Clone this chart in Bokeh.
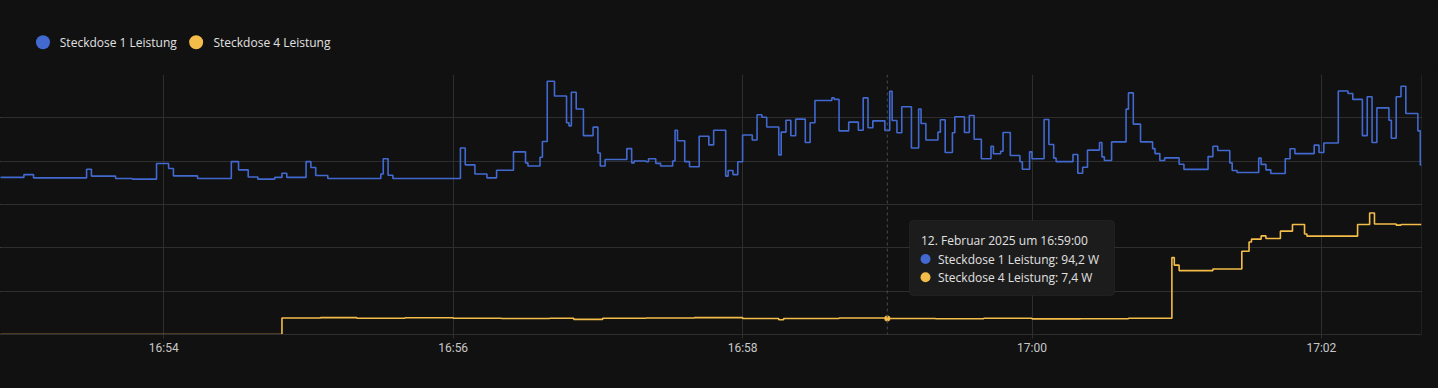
import pandas as pd
from bokeh.plotting import figure
from bokeh.layouts import column
from bokeh.models import (Range1d, FixedTicker, SingleIntervalTicker, Grid, Span,
                          BoxAnnotation, Label, DatetimeTickFormatter, GlobalInlineStyleSheet)
from bokeh.embed import file_html
from bokeh.resources import INLINE

# ---------------- data ----------------
DAY = "2025-02-12"
series_names = ["Steckdose 1 Leistung", "Steckdose 4 Leistung"]
unit = "W"

s1_time = ["16:52:52","16:53:02","16:53:06","16:53:28","16:53:30","16:53:40","16:53:47","16:53:57",
           "16:54:02","16:54:04","16:54:14","16:54:28","16:54:31","16:54:35","16:54:39","16:54:46",
           "16:54:49","16:54:51","16:54:59","16:55:01","16:55:03","16:55:08","16:55:30","16:55:31",
           "16:55:33","16:55:35","16:56:03","16:56:05","16:56:09","16:56:14","16:56:18","16:56:25",
           "16:56:30","16:56:31","16:56:36","16:56:37","16:56:39","16:56:42","16:56:47","16:56:48",
           "16:56:49","16:56:51","16:56:54","16:56:58","16:57:00","16:57:01","16:57:03","16:57:12",
           "16:57:14","16:57:15","16:57:20","16:57:21","16:57:24","16:57:26","16:57:31","16:57:32",
           "16:57:33","16:57:36","16:57:38","16:57:42","16:57:46","16:57:48","16:57:53","16:57:54",
           "16:57:56","16:57:58","16:58:00","16:58:04","16:58:06","16:58:08","16:58:10","16:58:15",
           "16:58:16","16:58:18","16:58:20","16:58:22","16:58:26","16:58:28","16:58:30","16:58:37",
           "16:58:38","16:58:40","16:58:44","16:58:48","16:58:50","16:58:52","16:58:54","16:58:59",
           "16:59:01","16:59:02","16:59:04","16:59:06","16:59:10","16:59:13","16:59:14","16:59:16",
           "16:59:21","16:59:22","16:59:24","16:59:27","16:59:28","16:59:32","16:59:34","16:59:36",
           "16:59:39","16:59:43","16:59:44","16:59:47","16:59:48","16:59:51","16:59:55","16:59:56",
           "16:59:59","17:00:00","17:00:05","17:00:07","17:00:09","17:00:10","17:00:17","17:00:19",
           "17:00:21","17:00:23","17:00:28","17:00:29","17:00:30","17:00:33","17:00:39","17:00:40",
           "17:00:42","17:00:45","17:00:50","17:00:51","17:00:53","17:00:55","17:01:01","17:01:03",
           "17:01:13","17:01:15","17:01:17","17:01:22","17:01:23","17:01:25","17:01:34","17:01:35",
           "17:01:37","17:01:39","17:01:45","17:01:47","17:01:49","17:01:57","17:01:59","17:02:01",
           "17:02:07","17:02:11","17:02:13","17:02:17","17:02:19","17:02:21","17:02:23","17:02:28",
           "17:02:29","17:02:31","17:02:33","17:02:35","17:02:40","17:02:41","17:02:42"]
s1_watt = [72.5, 73.8, 72.3, 76.3, 73.1, 72.0, 71.7, 78.9,
           76.6, 73.2, 72.0, 79.8, 76.0, 72.7, 71.7, 72.5,
           74.4, 72.5, 79.8, 77.1, 73.4, 72.0, 74.1, 81.1,
           73.5, 72.0, 86.1, 78.3, 74.1, 72.3, 75.8, 84.3,
           79.2, 77.8, 81.8, 89.1, 116.9, 110.1, 97.7, 96.3,
           111.8, 104.1, 91.8, 95.7, 83.8, 77.8, 80.8, 85.8,
           79.2, 80.1, 79.7, 81.1, 79.0, 77.8, 80.1, 94.3,
           89.4, 79.8, 77.4, 91.5, 87.5, 94.3, 73.1, 75.7,
           73.8, 79.7, 92.1, 89.8, 101.4, 100.3, 95.8, 82.9,
           93.4, 98.9, 91.7, 99.4, 88.6, 97.7, 108.0, 109.2,
           108.5, 94.0, 98.0, 94.3, 109.2, 95.4, 98.6, 94.2,
           112.3, 98.8, 93.1, 105.1, 86.1, 104.1, 97.4, 89.8,
           93.4, 99.1, 84.0, 93.1, 100.5, 93.2, 101.1, 90.1,
           81.1, 86.9, 83.4, 84.6, 93.2, 82.6, 79.7, 76.3,
           84.3, 81.1, 99.2, 87.7, 81.4, 79.8, 83.1, 74.4,
           77.2, 85.1, 88.6, 82.0, 80.3, 88.9, 104.0, 111.5,
           97.1, 88.9, 85.8, 83.5, 80.3, 81.5, 78.6, 76.2,
           82.1, 86.9, 84.9, 79.2, 75.7, 74.8, 81.4, 78.5,
           76.0, 74.3, 81.1, 85.7, 83.5, 87.4, 84.0, 88.4,
           112.4, 111.2, 108.5, 91.8, 109.7, 88.6, 104.6, 98.9,
           90.6, 109.7, 114.6, 102.0, 94.0, 78.3, 78.3]

s4_time = ["16:52:50","16:54:49","16:55:05","16:55:20","16:55:40","16:56:00","16:56:20","16:56:40",
           "16:56:50","16:57:02","16:57:20","16:57:40","16:58:00","16:58:15","16:58:17","16:58:40",
           "16:59:00","16:59:20","16:59:40","17:00:00","17:00:20","17:00:40","17:00:58","17:00:59",
           "17:01:01","17:01:15","17:01:27","17:01:30","17:01:31","17:01:35","17:01:37","17:01:43",
           "17:01:48","17:01:53","17:01:54","17:02:15","17:02:20","17:02:22","17:02:31","17:02:33",
           "17:02:42"]
s4_watt = [0.0, 7.6, 7.8, 7.5, 7.7, 7.5, 7.4, 7.5,
           7.0, 7.5, 7.6, 7.8, 7.4, 6.8, 7.4, 7.6,
           7.4, 7.3, 7.5, 7.2, 7.3, 7.5, 35.5, 32.0,
           29.5, 30.2, 38.4, 42.7, 44.0, 45.5, 44.3, 47.7,
           50.8, 46.4, 45.4, 50.8, 56.1, 51.0, 50.5, 50.8,
           50.8]

tick_times = ["16:54", "16:56", "16:58", "17:00", "17:02"]
hover_time = "16:59:00"
view_start, view_end = "16:52:52.3", "17:02:41.5"
y_max, y_step = 120, 20

assert len(s1_time) == len(s1_watt) and len(s4_time) == len(s4_watt)

# ---------------- helpers ----------------
def ms(t):
    return pd.Timestamp(f"{DAY} {t}").value / 1e6

def value_at(times, vals, t):
    v = vals[0]
    for tt, vv in zip(times, vals):
        if ms(tt) <= ms(t):
            v = vv
    return v

def de(v):
    return f"{v:.1f}".replace(".", ",")

BG = "#111111"
GRID = "#2e2e2e"
BLUE = "#4269d0"
YELLOW = "#f4bd4a"
TXT = "#e1e1e1"

W = 1438
LEG_H = 68
FRAME_W, FRAME_H = 1421, 260
TOP, BOTTOM, RIGHT = 6, 50, 17

x0, x1 = ms(view_start), ms(view_end)

# page pixel -> data (for annotations only)
FRAME_LEFT_PAGE = 0
FRAME_TOP_PAGE = LEG_H + TOP
def X(px):
    return x0 + (px - FRAME_LEFT_PAGE) * (x1 - x0) / FRAME_W
def Y(py):
    return y_max - (py - FRAME_TOP_PAGE) * y_max / FRAME_H

# ---------------- legend strip ----------------
lg = figure(width=W, height=LEG_H, x_range=Range1d(0, W), y_range=Range1d(LEG_H, 0),
            output_backend="svg", toolbar_location=None, x_axis_location=None,
            y_axis_location=None, min_border=0, background_fill_color=BG,
            border_fill_color=BG, outline_line_color=None)
lg.xgrid.visible = False
lg.ygrid.visible = False
for g in lg.grid:
    g.visible = False
leg_dot_x = [43, 198]
leg_txt_x = [60, 215.5]
leg_y = 41.7
lg.scatter(x=leg_dot_x, y=[leg_y, leg_y], size=14, color=[BLUE, YELLOW], line_width=0)
for tx, name in zip(leg_txt_x, series_names):
    lg.add_layout(Label(x=tx, y=leg_y, text=name, text_baseline="middle", text_align="left",
                        text_font="Open Sans", text_font_size="12px", text_color=TXT))

# ---------------- main chart ----------------
p = figure(width=W, height=TOP + FRAME_H + BOTTOM, x_axis_type="datetime", y_axis_location=None,
           x_range=Range1d(x0, x1), y_range=Range1d(0, y_max),
           output_backend="svg", toolbar_location=None,
           background_fill_color=BG, border_fill_color=BG, outline_line_color=None,
           min_border_left=0, min_border_right=RIGHT, min_border_top=TOP, min_border_bottom=BOTTOM)

ax = p.xaxis[0]
ax.ticker = FixedTicker(ticks=[ms(t + ":00") for t in tick_times])
fmt = "%H:%M"
ax.formatter = DatetimeTickFormatter(seconds=fmt, minsec=fmt, minutes=fmt, hourmin=fmt, hours=fmt)
ax.axis_line_color = GRID
ax.major_tick_line_color = GRID
ax.major_tick_in = 0
ax.major_tick_out = 4
ax.minor_tick_line_color = None
ax.major_label_text_color = "#c8c8c8"
ax.major_label_text_font = "Roboto"
ax.major_label_text_font_size = "12px"
ax.major_label_standoff = 2

p.xgrid.grid_line_color = GRID
p.add_layout(Grid(dimension=1, ticker=SingleIntervalTicker(interval=y_step), grid_line_color=GRID))
p.add_layout(Span(location=x1, dimension="height", line_color=GRID, line_width=1))

hx = ms(hover_time)
p.add_layout(Span(location=hx, dimension="height", line_color="#4a4a4a", line_width=1, line_dash="3 3"))

t1 = [pd.Timestamp(f"{DAY} {t}") for t in s1_time]
t4 = [pd.Timestamp(f"{DAY} {t}") for t in s4_time]
p.step(x=t1, y=s1_watt, mode="after", line_color=BLUE, line_width=1.6)
p.step(x=t4, y=s4_watt, mode="after", line_color=YELLOW, line_width=1.6)

v1 = value_at(s1_time, s1_watt, hover_time)
v4 = value_at(s4_time, s4_watt, hover_time)
p.scatter(x=[hx], y=[v4], size=6, color=YELLOW, line_width=0)

# tooltip
p.add_layout(BoxAnnotation(left=X(909), right=X(1114), top=Y(220), bottom=Y(295),
                           fill_color="#1c1c1c", fill_alpha=1.0, line_color="#383838",
                           line_width=1, border_radius=4))
hdate = pd.Timestamp(f"{DAY} {hover_time}")
months = ["Januar", "Februar", "März", "April", "Mai", "Juni", "Juli", "August",
          "September", "Oktober", "November", "Dezember"]
head = f"{hdate.day}. {months[hdate.month - 1]} {hdate.year} um {hdate.strftime('%H:%M:%S')}"
lines = [(head, 920.5, 240.3),
         (f"{series_names[0]}: {de(v1)} {unit}", 937.5, 258.5),
         (f"{series_names[1]}: {de(v4)} {unit}", 937.5, 276.7)]
for txt, px, py in lines:
    p.add_layout(Label(x=X(px), y=Y(py), text=txt, text_baseline="middle", text_align="left",
                       text_font="Open Sans", text_font_size="12px", text_color=TXT))
p.scatter(x=[X(925), X(925)], y=[Y(258.5), Y(276.7)], size=10, color=[BLUE, YELLOW],
          line_width=0, level="overlay")

layout = column(lg, p, spacing=0)
layout.stylesheets = [GlobalInlineStyleSheet(css="body{background:#111111;}")]

open("out.html", "w").write(file_html(layout, INLINE))
